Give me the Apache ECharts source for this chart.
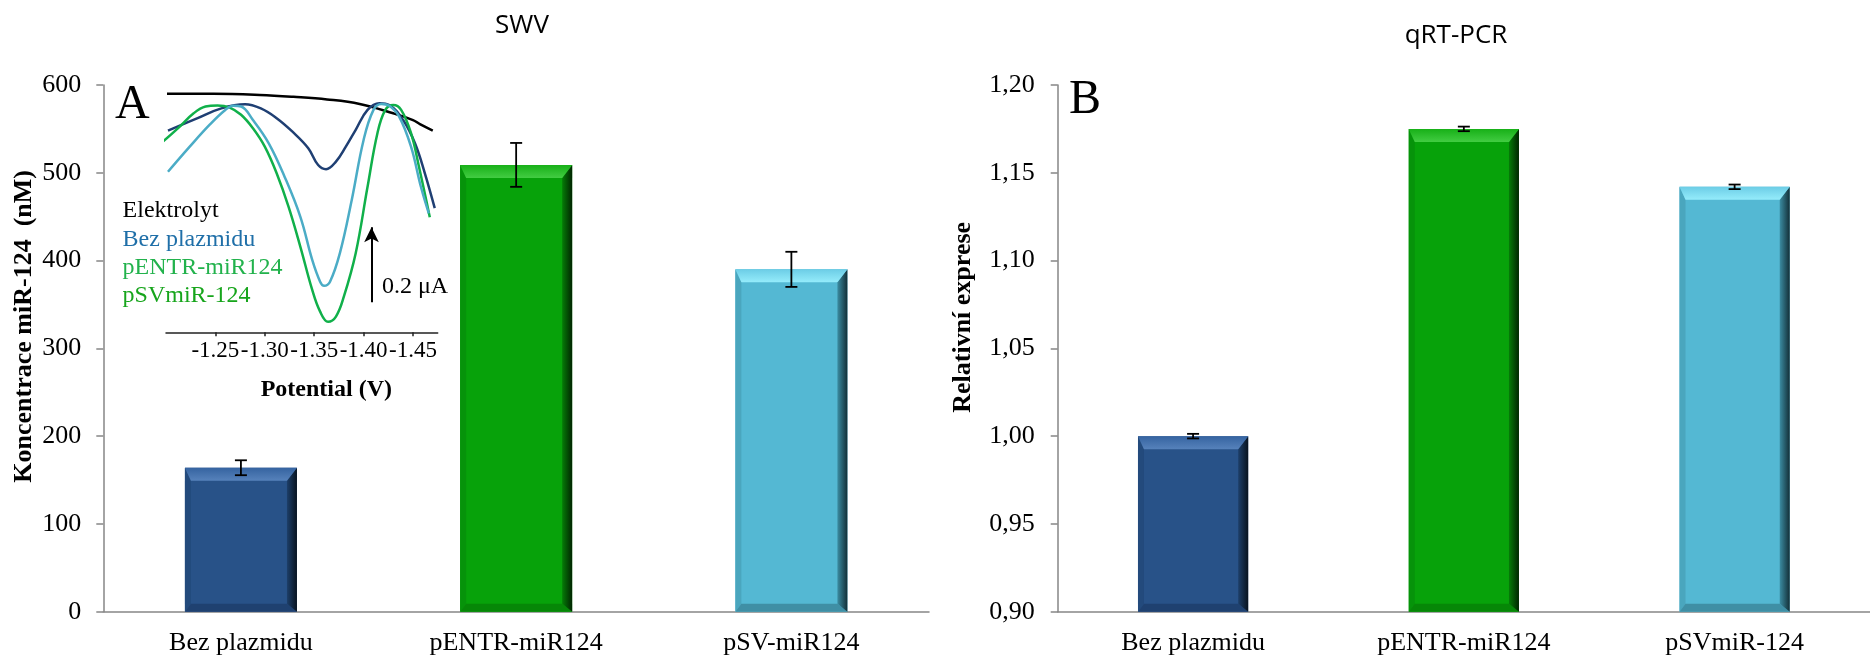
<!DOCTYPE html>
<html><head><meta charset="utf-8">
<script src="https://cdn.jsdelivr.net/npm/echarts@6/dist/echarts.min.js"></script>
<style>html,body{margin:0;padding:0;background:#fff}#c{width:1870px;height:658px}</style>
</head><body><div id="c"></div>
<script>
// ---- data: panel A (SWV) ----
const categoriesA = ['Bez plazmidu', 'pENTR-miR124', 'pSV-miR124'];
const valuesA = [164, 509, 390];
const errorsA = [8.5, 25, 20];
const ticksA = [0, 100, 200, 300, 400, 500, 600];

// ---- data: panel B (qRT-PCR) ----
const categoriesB = ['Bez plazmidu', 'pENTR-miR124', 'pSVmiR-124'];
const valuesB = [1.000, 1.175, 1.142];
const errorsB = [0.0013, 0.0013, 0.0013];
const ticksB = [0.90, 0.95, 1.00, 1.05, 1.10, 1.15, 1.20];

// ---- data: inset voltammograms (potential V, current µA) ----
const insetTicks = [-1.25, -1.30, -1.35, -1.40, -1.45];
const potElektrolyt = [-1.201, -1.248, -1.295, -1.329, -1.363, -1.396, -1.430, -1.450, -1.457, -1.470];
const curElektrolyt = [0.636, 0.636, 0.633, 0.628, 0.621, 0.609, 0.584, 0.566, 0.555, 0.538];
const potBez = [-1.202, -1.232, -1.256, -1.280, -1.296, -1.312, -1.328, -1.344, -1.354, -1.362, -1.372, -1.382, -1.392, -1.404, -1.416, -1.426, -1.440, -1.452, -1.462, -1.472];
const curBez = [0.538, 0.571, 0.597, 0.608, 0.597, 0.571, 0.535, 0.491, 0.446, 0.435, 0.455, 0.495, 0.540, 0.593, 0.611, 0.606, 0.566, 0.504, 0.424, 0.331];
const potPENTR = [-1.194, -1.212, -1.228, -1.240, -1.252, -1.264, -1.276, -1.288, -1.300, -1.312, -1.324, -1.336, -1.348, -1.356, -1.364, -1.372, -1.380, -1.392, -1.404, -1.414, -1.422, -1.430, -1.438, -1.448, -1.456, -1.467];
const curPENTR = [0.502, 0.544, 0.584, 0.602, 0.605, 0.600, 0.580, 0.544, 0.495, 0.424, 0.335, 0.228, 0.113, 0.055, 0.028, 0.042, 0.095, 0.211, 0.388, 0.531, 0.593, 0.606, 0.593, 0.531, 0.442, 0.307];
const potPSV = [-1.202, -1.224, -1.244, -1.260, -1.268, -1.276, -1.288, -1.304, -1.320, -1.336, -1.348, -1.356, -1.360, -1.366, -1.376, -1.388, -1.400, -1.410, -1.418, -1.426, -1.436, -1.448, -1.458, -1.466];
const curPSV = [0.428, 0.495, 0.553, 0.593, 0.604, 0.602, 0.566, 0.504, 0.415, 0.308, 0.193, 0.135, 0.124, 0.135, 0.211, 0.353, 0.513, 0.593, 0.609, 0.604, 0.575, 0.495, 0.388, 0.317];
const legendNames = ['Elektrolyt', 'Bez plazmidu', 'pENTR-miR124', 'pSVmiR-124'];
const scaleBarPot = -1.408, scaleBarBase = 0.08, scaleBarLen = 0.2;

// ---- styles ----
const SERIF = 'Liberation Serif';
const AXIS_GRAY = '#868686';
const BAR_FRAC = 0.407;
const barMain = ['#285288', '#07a20a', '#54b8d3'];
const bevel = [
  {t1:'#3563a0', t2:'#5682bb', r1:'#1d3f6a', r2:'#08131f', b:'#1f4170', l:'#234a7c'},
  {t1:'#17b017', t2:'#42cc42', r1:'#057c07', r2:'#012501', b:'#068707', l:'#06930a'},
  {t1:'#6ccde6', t2:'#95ecfb', r1:'#3b8ca2', r2:'#132f37', b:'#3f8fa5', l:'#4aa6be'}
];
const lineColors = ['#000000', '#1f3f73', '#10b04a', '#4bacc6'];
const legendColors = ['#000000', '#1f6fa8', '#22b24c', '#17a51c'];

function zip(a, b) { return a.map((v, i) => [v, b[i]]); }

function bevelRender(baseVal) {
  return function (params, api) {
    const i = api.value(0), v = api.value(1);
    const top = api.coord([i, v]);
    const bot = api.coord([i, baseVal]);
    const w = api.size([1, 0])[0] * BAR_FRAC;
    const xl = top[0] - w / 2, xr = top[0] + w / 2, yt = top[1], yb = bot[1];
    const c = bevel[i];
    const bt = 13, bs = 10, bb = 8, bl = 6;
    const G = echarts.graphic.LinearGradient;
    return {type: 'group', children: [
      {type: 'polygon', shape: {points: [[xl, yt], [xl + bl, yt + bt], [xl + bl, yb - bb], [xl, yb]]}, style: {fill: c.l}},
      {type: 'polygon', shape: {points: [[xl, yb], [xr, yb], [xr - bs, yb - bb], [xl + bl, yb - bb]]}, style: {fill: c.b}},
      {type: 'polygon', shape: {points: [[xr, yt], [xr, yb], [xr - bs, yb - bb], [xr - bs, yt + bt]]},
        style: {fill: new G(0, 0, 1, 0, [{offset: 0, color: c.r1}, {offset: 1, color: c.r2}])}},
      {type: 'polygon', shape: {points: [[xl, yt], [xr, yt], [xr - bs, yt + bt], [xl + bl, yt + bt]]},
        style: {fill: new G(0, 0, 0, 1, [{offset: 0, color: c.t1}, {offset: 1, color: c.t2}])}}
    ]};
  };
}
function errRender(params, api) {
  const i = api.value(0), v = api.value(1), e = api.value(2);
  const hi = api.coord([i, v + e]), lo = api.coord([i, v - e]);
  const cw = 6, st = {stroke: '#000', lineWidth: 1.8};
  return {type: 'group', children: [
    {type: 'line', shape: {x1: hi[0], y1: hi[1], x2: lo[0], y2: lo[1]}, style: st},
    {type: 'line', shape: {x1: hi[0] - cw, y1: hi[1], x2: hi[0] + cw, y2: hi[1]}, style: st},
    {type: 'line', shape: {x1: lo[0] - cw, y1: lo[1], x2: lo[0] + cw, y2: lo[1]}, style: st}
  ]};
}

const catAxis = (gi, data) => ({
  gridIndex: gi, type: 'category', data: data,
  axisLine: {lineStyle: {color: AXIS_GRAY, width: 1.5}},
  axisTick: {length: 8, lineStyle: {color: AXIS_GRAY, width: 1.5}},
  axisLabel: {margin: 18, fontFamily: SERIF, fontSize: 26, color: '#000'}
});

const chart = echarts.init(document.getElementById('c'));
chart.setOption({
  animation: false,
  backgroundColor: '#fff',
  title: [
    {text: 'SWV', left: 517, top: 8, textAlign: 'center', textStyle: {fontFamily: 'Open Sans', fontSize: 26, fontWeight: 'normal', color: '#000'}},
    {text: 'qRT-PCR', left: 1451, top: 18, textAlign: 'center', textStyle: {fontFamily: 'Open Sans', fontSize: 26, fontWeight: 'normal', color: '#000'}}
  ],
  legend: {
    orient: 'vertical', left: 117.6, top: 199, padding: 0, itemGap: 4.3,
    itemWidth: 0, itemHeight: 24, icon: 'none', selectedMode: false,
    textStyle: {fontFamily: SERIF, fontSize: 24},
    data: legendNames.map((n, i) => ({name: n, textStyle: {color: legendColors[i]}}))
  },
  grid: [
    {left: 103.3, top: 85, width: 825.7, height: 526.7},
    {left: 166, top: 84.8, width: 271.7, height: 247.5},
    {left: 1057.7, top: 85, width: 819, height: 526.7}
  ],
  xAxis: [
    catAxis(0, categoriesA),
    {gridIndex: 1, type: 'value', inverse: true, min: -1.475, max: -1.2,
      splitLine: {show: false},
      axisLine: {onZero: false, lineStyle: {color: '#222', width: 1.5}},
      axisTick: {customValues: insetTicks, length: 4, lineStyle: {color: '#222', width: 1.5}},
      axisLabel: {customValues: insetTicks, interval: 0, showMinLabel: true, showMaxLabel: true, hideOverlap: false,
        formatter: v => v.toFixed(2), margin: 7, fontFamily: SERIF, fontSize: 23, color: '#000'},
      name: 'Potential (V)', nameLocation: 'middle', nameGap: 45,
      nameTextStyle: {fontFamily: SERIF, fontSize: 24, fontWeight: 'bold', color: '#000', padding: [0, 0, 0, 49]}},
    catAxis(2, categoriesB)
  ],
  yAxis: [
    {gridIndex: 0, type: 'value', min: ticksA[0], max: ticksA[ticksA.length - 1], interval: ticksA[1] - ticksA[0],
      splitLine: {show: false},
      axisLine: {show: true, lineStyle: {color: AXIS_GRAY, width: 1.5}},
      axisTick: {show: true, length: 7, lineStyle: {color: AXIS_GRAY, width: 1.5}},
      axisLabel: {margin: 22, fontFamily: SERIF, fontSize: 26, color: '#000'},
      name: 'Koncentrace miR-124  (nM)', nameLocation: 'middle', nameGap: 66,
      nameTextStyle: {fontFamily: SERIF, fontSize: 26, fontWeight: 'bold', color: '#000', padding: [0, 0, 0, 44]}},
    {gridIndex: 1, type: 'value', min: 0, max: 0.66, show: false},
    {gridIndex: 2, type: 'value', min: ticksB[0], max: ticksB[ticksB.length - 1], interval: 0.05,
      splitLine: {show: false},
      axisLine: {show: true, lineStyle: {color: AXIS_GRAY, width: 1.5}},
      axisTick: {show: true, length: 7, lineStyle: {color: AXIS_GRAY, width: 1.5}},
      axisLabel: {margin: 23, fontFamily: SERIF, fontSize: 26, color: '#000', formatter: v => v.toFixed(2).replace('.', ',')},
      name: 'Relativní exprese', nameLocation: 'middle', nameGap: 81,
      nameTextStyle: {fontFamily: SERIF, fontSize: 26, fontWeight: 'bold', color: '#000', padding: [0, 0, 0, 62]}}
  ],
  graphic: [
    {type: 'text', x: 115, y: 81, style: {text: 'A', font: '48px "Liberation Serif"', fill: '#000', textVerticalAlign: 'top'}},
    {type: 'text', x: 1069, y: 76, style: {text: 'B', font: '48px "Liberation Serif"', fill: '#000', textVerticalAlign: 'top'}},
    {type: 'text', x: 382, y: 275, style: {text: '0.2 μA', font: '24px "Liberation Serif"', fill: '#000', textVerticalAlign: 'top'}}
  ],
  series: [
    {type: 'bar', xAxisIndex: 0, yAxisIndex: 0, barWidth: (BAR_FRAC * 100) + '%',
      data: valuesA.map((v, i) => ({value: v, itemStyle: {color: barMain[i]}}))},
    {type: 'custom', xAxisIndex: 0, yAxisIndex: 0, renderItem: bevelRender(ticksA[0]), encode: {x: 0, y: 1},
      data: valuesA.map((v, i) => [i, v]), z: 3},
    {type: 'custom', xAxisIndex: 0, yAxisIndex: 0, renderItem: errRender, encode: {x: 0, y: 1},
      data: valuesA.map((v, i) => [i, v, errorsA[i]]), z: 4},
    {type: 'bar', xAxisIndex: 2, yAxisIndex: 2, barWidth: (BAR_FRAC * 100) + '%',
      data: valuesB.map((v, i) => ({value: v, itemStyle: {color: barMain[i]}}))},
    {type: 'custom', xAxisIndex: 2, yAxisIndex: 2, renderItem: bevelRender(ticksB[0]), encode: {x: 0, y: 1},
      data: valuesB.map((v, i) => [i, v]), z: 3},
    {type: 'custom', xAxisIndex: 2, yAxisIndex: 2, renderItem: errRender, encode: {x: 0, y: 1},
      data: valuesB.map((v, i) => [i, v, errorsB[i]]), z: 4},
    {name: legendNames[0], type: 'line', xAxisIndex: 1, yAxisIndex: 1, smooth: 0.4, showSymbol: false, clip: false,
      lineStyle: {color: lineColors[0], width: 2.5}, itemStyle: {color: lineColors[0]}, data: zip(potElektrolyt, curElektrolyt), z: 5},
    {name: legendNames[1], type: 'line', xAxisIndex: 1, yAxisIndex: 1, smooth: 0.4, showSymbol: false, clip: false,
      lineStyle: {color: lineColors[1], width: 2.5}, itemStyle: {color: lineColors[1]}, data: zip(potBez, curBez), z: 5},
    {name: legendNames[2], type: 'line', xAxisIndex: 1, yAxisIndex: 1, smooth: 0.4, showSymbol: false, clip: false,
      lineStyle: {color: lineColors[2], width: 2.5}, itemStyle: {color: lineColors[2]}, data: zip(potPENTR, curPENTR), z: 5},
    {name: legendNames[3], type: 'line', xAxisIndex: 1, yAxisIndex: 1, smooth: 0.4, showSymbol: false, clip: false,
      lineStyle: {color: lineColors[3], width: 2.5}, itemStyle: {color: lineColors[3]}, data: zip(potPSV, curPSV), z: 5},
    {type: 'line', xAxisIndex: 1, yAxisIndex: 1, data: [], silent: true,
      markLine: {silent: true, animation: false, symbol: ['none', 'arrow'], symbolSize: [11, 15], label: {show: false},
        lineStyle: {color: '#000', width: 2, type: 'solid'},
        data: [[{coord: [scaleBarPot, scaleBarBase]}, {coord: [scaleBarPot, scaleBarBase + scaleBarLen]}]]}}
  ]
});
</script>
</body></html>
